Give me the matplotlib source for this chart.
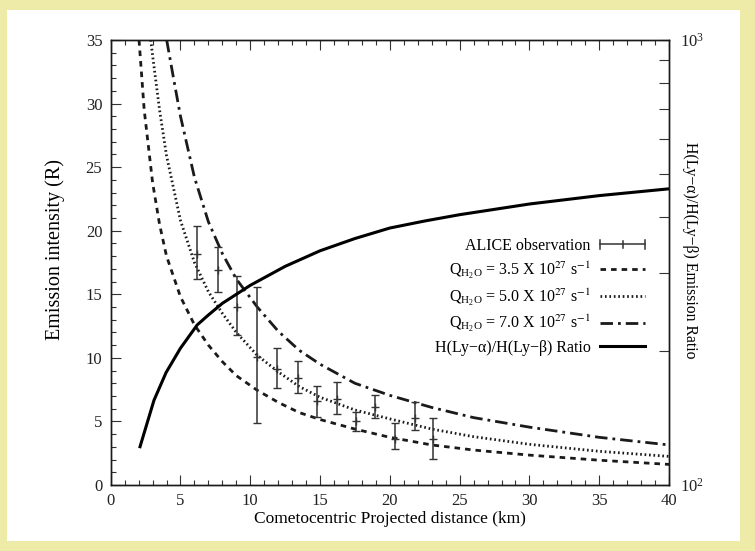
import matplotlib
matplotlib.use("Agg")
import matplotlib.pyplot as plt
from matplotlib.patches import Rectangle
from matplotlib.lines import Line2D
from matplotlib.legend_handler import HandlerBase
from matplotlib.ticker import MultipleLocator, LogLocator, NullFormatter

plt.rcParams['font.family'] = ['Liberation Serif', 'DejaVu Serif']
plt.rcParams['mathtext.fontset'] = 'stix'

# ---- observations (ALICE) ----
obs_x = [6.2, 7.7, 9.05, 10.5, 11.95, 13.4, 14.8, 16.2, 17.55, 18.95, 20.4, 21.8, 23.1]
obs_y = [18.2, 16.9, 14.0, 10.1, 9.1, 8.45, 6.6, 6.8, 5.0, 6.15, 3.65, 5.3, 3.6]
obs_hi = [20.4, 18.7, 16.4, 15.55, 10.8, 9.75, 7.75, 8.1, 5.75, 7.05, 4.9, 6.5, 5.25]
obs_lo = [16.2, 15.2, 11.8, 4.9, 7.6, 7.25, 5.35, 5.6, 4.25, 5.25, 2.8, 4.3, 2.05]

# ---- model curves ----
q35_x = [2.03, 2.4, 3.0, 3.5, 4.0, 5.0, 6.0, 7.0, 8.0, 9.0, 10.5, 12, 13.5, 15, 17.5, 20, 23, 26, 30, 35, 40]
q35_y = [35, 29.5, 23.8, 20.5, 18.0, 14.8, 12.6, 11.0, 9.7, 8.6, 7.45, 6.5, 5.7, 5.15, 4.4, 3.75, 3.15, 2.75, 2.35, 1.95, 1.62]

q50_x = [2.87, 3.0, 3.5, 4.0, 5.0, 6.0, 7.0, 8.0, 9.0, 10.5, 12, 13.5, 15, 17.5, 20, 23, 26, 30, 35, 40]
q50_y = [35, 33.8, 29.5, 25.9, 20.8, 17.5, 15.2, 13.5, 12.0, 10.2, 8.9, 7.75, 6.9, 5.9, 5.2, 4.4, 3.8, 3.2, 2.65, 2.25]

q70_x = [4.01, 4.5, 5.0, 6.0, 7.0, 8.0, 9.0, 10.5, 12, 13.5, 15, 17.5, 20, 23, 26, 30, 35, 40]
q70_y = [35, 32.0, 29.0, 24.2, 20.7, 18.2, 16.2, 14.0, 12.1, 10.6, 9.5, 8.0, 7.05, 6.1, 5.3, 4.55, 3.75, 3.15]

ratio_x = [2.07, 3.1, 3.97, 5.0, 6.2, 7.0, 8.0, 10, 12.5, 15, 17.5, 20, 22.5, 25, 30, 35, 40]
ratio_y = [121, 155, 179, 203, 229, 241, 256, 281, 310, 336, 358, 378, 392, 405, 428, 447, 463]

labels = ["ALICE observation",
          r"$\mathregular{Q_{H_2O}}$ = 3.5 X 10$^{27}$ s$^{-1}$",
          r"$\mathregular{Q_{H_2O}}$ = 5.0 X 10$^{27}$ s$^{-1}$",
          r"$\mathregular{Q_{H_2O}}$ = 7.0 X 10$^{27}$ s$^{-1}$",
          "H(Ly\u2212\u03b1)/H(Ly\u2212\u03b2) Ratio"]

W, H = 755, 551
fig = plt.figure(figsize=(W / 100, H / 100), dpi=100)
fig.patch.set_facecolor('#EEEBA9')
bg = Rectangle((7 / W, 10 / H), 733 / W, 531 / H, transform=fig.transFigure,
               facecolor='white', edgecolor='none', zorder=-10)
fig.patches.append(bg)

ax = fig.add_axes([110.7 / W, 66 / H, 558.3 / W, 445 / H])
ax.set_facecolor('white')
ink = '#1a1a1a'

dash35 = (2.0, 1.8)
dash50 = (0.6, 1.0)
dash70 = (4.5, 1.8, 1.0, 1.8)
ax.plot(q35_x, q35_y, color=ink, lw=2.0, dashes=dash35)
ax.plot(q50_x, q50_y, color=ink, lw=2.0, dashes=dash50)
ax.plot(q70_x, q70_y, color=ink, lw=2.0, dashes=dash70)
yerr = [[y - l for y, l in zip(obs_y, obs_lo)], [h - y for y, h in zip(obs_y, obs_hi)]]
ax.errorbar(obs_x, obs_y, yerr=yerr, fmt='+', color='#333333', ms=6, mew=1.0,
            elinewidth=1.1, capsize=3, capthick=1.1)

ax.set_xlim(0, 40)
ax.set_ylim(0, 35)
ax.xaxis.set_major_locator(MultipleLocator(5))
ax.xaxis.set_minor_locator(MultipleLocator(1))
ax.yaxis.set_major_locator(MultipleLocator(5))
ax.yaxis.set_minor_locator(MultipleLocator(1))
ax.tick_params(which='both', direction='in', top=True, right=False, color='#333333', width=0.8,
               labelsize=12, labelcolor='#222222')
ax.tick_params(which='major', length=7)
ax.tick_params(which='minor', length=3.6)
ax.tick_params(axis='x', pad=6)
ax.tick_params(axis='y', pad=6)
for s in ax.spines.values():
    s.set_linewidth(1.0)
    s.set_color(ink)

ax.set_xlabel("Cometocentric Projected distance (km)", fontsize=12.5)
ax.xaxis.set_label_coords(0.5, (485 - 519) / 445)
ax.xaxis.label.set_va('center')
ax.set_ylabel("Emission intensity (R)", fontsize=14.5)
ax.yaxis.set_label_coords((55 - 110.7) / 558.3, (485 - 249) / 445)
ax.yaxis.label.set_va('center')

ax2 = ax.twinx()
ax2.plot(ratio_x, ratio_y, color='black', lw=2.2, solid_capstyle='butt')
ax2.set_yscale('log')
ax2.set_ylim(100, 1000)
ax2.yaxis.set_major_locator(LogLocator(base=10, numticks=5))
ax2.yaxis.set_minor_locator(LogLocator(base=10, subs=range(2, 10), numticks=10))
ax2.yaxis.set_minor_formatter(NullFormatter())
ax2.tick_params(which='both', direction='in', length=7, width=0.8, color='#333333',
                labelsize=12, pad=8, labelcolor='#222222')
for s in ax2.spines.values():
    s.set_linewidth(1.0)
    s.set_color(ink)
ax2.set_ylabel("H(Ly\u2212\u03b1)/H(Ly\u2212\u03b2) Emission Ratio", fontsize=11.3, rotation=270)
ax2.yaxis.set_label_coords((690 - 110.7) / 558.3, (485 - 250) / 445)
ax2.yaxis.label.set_va('center')


class HandlerHErr(HandlerBase):
    def create_artists(self, legend, orig_handle, xdescent, ydescent, width, height, fontsize, trans):
        y = height / 2 - ydescent
        x0, x1 = -xdescent, width - xdescent
        xm = (x0 + x1) / 2
        kw = dict(color='#333333', lw=1.1, transform=trans)
        return [Line2D([x0, x1], [y, y], **kw),
                Line2D([x0, x0], [y - 3, y + 3], **kw),
                Line2D([x1, x1], [y - 3, y + 3], **kw),
                Line2D([xm, xm], [y - 2.5, y + 2.5], **kw)]


proxy_obs = Line2D([], [])
h35 = Line2D([], [], color=ink, lw=2.0, dashes=dash35)
h50 = Line2D([], [], color=ink, lw=2.0, dashes=dash50)
h70 = Line2D([], [], color=ink, lw=2.0, dashes=dash70)
hr = Line2D([], [], color='black', lw=2.2)
leg = ax2.legend([proxy_obs, h35, h50, h70, hr], labels,
                 handler_map={proxy_obs: HandlerHErr()},
                 loc='upper right', bbox_to_anchor=((645 - 110.7) / 558.3, (485 - 238) / 445),
                 frameon=False, markerfirst=False, fontsize=11.5, handlelength=2.8,
                 handletextpad=0.6, labelspacing=0.34, borderpad=0, borderaxespad=0)

fig.savefig("out.png", dpi=100, facecolor=fig.get_facecolor())
